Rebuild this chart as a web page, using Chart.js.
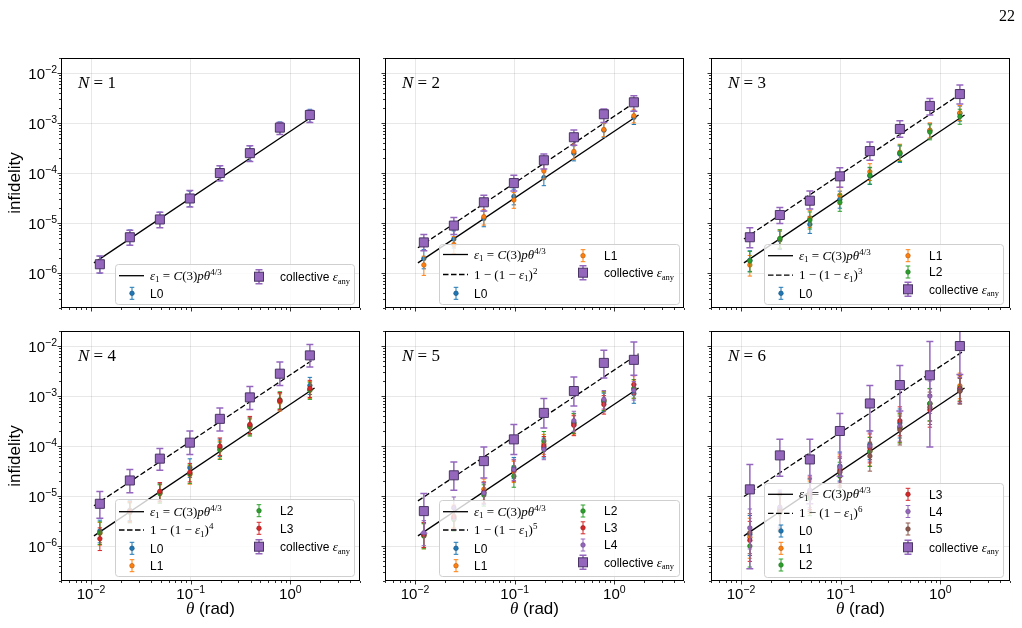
<!DOCTYPE html>
<html lang="en">
<head>
<meta charset="UTF-8">
<title>Infidelity vs rotation angle</title>
<script src="https://cdn.jsdelivr.net/npm/chart.js@4.4.0/dist/chart.umd.min.js"></script>
<style>
  body { margin: 0; background: #fff; }
  #page { position: relative; width: 1022px; height: 628px; background: #fff; }
  #page canvas { position: absolute; left: 0; top: 0; }
</style>
</head>
<body>
<div id="page">
  <canvas id="c1" width="1022" height="628"></canvas>
  <canvas id="c2" width="1022" height="628"></canvas>
  <canvas id="c3" width="1022" height="628"></canvas>
  <canvas id="c4" width="1022" height="628"></canvas>
  <canvas id="c5" width="1022" height="628"></canvas>
  <canvas id="c6" width="1022" height="628"></canvas>
</div>
<script>
// ---- data ----
const theta = [0.01227, 0.02454, 0.04909, 0.09817, 0.19635, 0.3927, 0.7854, 1.5708];
const xMajor = [0.01, 0.1, 1];
const xTickExp = ['\u22122', '\u22121', '0'];
const yMajor = [1e-6, 1e-5, 1e-4, 1e-3, 1e-2];
const yTickExp = ['\u22126', '\u22125', '\u22124', '\u22123', '\u22122'];

// theory lines (end points, straight on log-log)
const lineTheta = [0.0107, 1.75];
const eps1Ends = [1.6e-6, 1.45e-3];
const dash2 = [3.2e-6, 2.9e-3];
const dash3 = [4.8e-6, 4.35e-3];
const dash4 = [6.4e-6, 5.6e-3];
const dash5 = [8.0e-6, 7.0e-3];
const dash6 = [9.8e-6, 8.2e-3];

// N = 1
const n1Coll = [1.5e-6, 5.2e-6, 1.18e-5, 3.1e-5, 1.0e-4, 2.5e-4, 8.1e-4, 1.45e-3];
const n1CollLo = [1.0e-6, 3.6e-6, 8.1e-6, 2.1e-5, 7.0e-5, 1.7e-4, 5.9e-4, 1.03e-3];
const n1CollHi = [2.2e-6, 7.2e-6, 1.64e-5, 4.5e-5, 1.4e-4, 3.5e-4, 1.02e-3, 1.8e-3];
const n1L0 = [1.5e-6, 5.2e-6, 1.18e-5, 3.1e-5, 1.0e-4, 2.5e-4, 8.1e-4, 1.45e-3];
const n1LHi = [1.45, 1.4, 1.4, 1.4, 1.4, 1.4, 1.3, 1.3];
const n1LLo = [0.66, 0.69, 0.69, 0.69, 0.7, 0.7, 0.73, 0.72];

// N = 2
const n2Coll = [4.1e-6, 8.9e-6, 2.6e-5, 6.3e-5, 1.8e-4, 5.2e-4, 1.5e-3, 2.6e-3];
const n2CollLo = [2.8e-6, 5.9e-6, 1.74e-5, 4.4e-5, 1.2e-4, 3.6e-4, 1.03e-3, 1.73e-3];
const n2CollHi = [5.9e-6, 1.29e-5, 3.6e-5, 9.0e-5, 2.4e-4, 7.3e-4, 1.9e-3, 3.5e-3];
const n2L0 = [1.96e-6, 4.8e-6, 1.24e-5, 3.4e-5, 8.1e-5, 2.5e-4, 7.2e-4, 1.3e-3];
const n2L1 = [1.45e-6, 3.7e-6, 1.34e-5, 2.9e-5, 1.1e-4, 2.7e-4, 7.4e-4, 1.4e-3];
const n2LHi = [1.5, 1.45, 1.4, 1.4, 1.4, 1.4, 1.35, 1.35];
const n2LLo = [0.62, 0.66, 0.68, 0.68, 0.69, 0.7, 0.72, 0.72];

// N = 3
const n3Coll = [5.2e-6, 1.45e-5, 2.8e-5, 8.6e-5, 2.75e-4, 7.6e-4, 2.2e-3, 3.8e-3];
const n3CollLo = [3.2e-6, 9.8e-6, 1.9e-5, 5.2e-5, 1.8e-4, 5.2e-4, 1.45e-3, 2.4e-3];
const n3CollHi = [8.1e-6, 2.05e-5, 4.4e-5, 1.28e-4, 4.2e-4, 1.11e-3, 3.1e-3, 5.8e-3];
const n3L0 = [1.8e-6, 4.6e-6, 9.4e-6, 3.0e-5, 8.8e-5, 2.4e-4, 7.0e-4, 1.56e-3];
const n3L1 = [1.45e-6, 4.8e-6, 1.24e-5, 3.6e-5, 1.06e-4, 2.6e-4, 7.2e-4, 1.6e-3];
const n3L2 = [1.75e-6, 4.9e-6, 1.15e-5, 2.6e-5, 9.0e-5, 2.5e-4, 6.6e-4, 1.35e-3];
const n3LHi = [1.55, 1.5, 1.45, 1.45, 1.45, 1.45, 1.4, 1.4];
const n3LLo = [0.6, 0.64, 0.66, 0.66, 0.67, 0.68, 0.7, 0.7];

// N = 4
const n4Coll = [7.0e-6, 2.05e-5, 5.6e-5, 1.17e-4, 3.5e-4, 9.4e-4, 2.8e-3, 6.5e-3];
const n4CollLo = [3.6e-6, 1.17e-5, 3.3e-5, 6.8e-5, 2.0e-4, 5.4e-4, 1.63e-3, 3.8e-3];
const n4CollHi = [1.24e-5, 3.4e-5, 8.9e-5, 2.0e-4, 5.8e-4, 1.55e-3, 4.8e-3, 1.07e-2];
const n4L0 = [2.0e-6, 5.2e-6, 1.2e-5, 3.7e-5, 9.5e-5, 2.6e-4, 7.9e-4, 1.63e-3];
const n4L1 = [1.8e-6, 5.0e-6, 1.15e-5, 2.7e-5, 8.8e-5, 2.5e-4, 7.6e-4, 1.35e-3];
const n4L2 = [1.85e-6, 4.7e-6, 1.12e-5, 2.8e-5, 8.3e-5, 2.4e-4, 8.4e-4, 1.3e-3];
const n4L3 = [1.4e-6, 4.9e-6, 1.24e-5, 3.0e-5, 1.0e-4, 2.7e-4, 8.1e-4, 1.42e-3];
const n4LHi = [1.65, 1.55, 1.5, 1.5, 1.45, 1.45, 1.45, 1.45];
const n4LLo = [0.58, 0.62, 0.64, 0.64, 0.65, 0.66, 0.66, 0.66];

// N = 5
const n5Coll = [5.0e-6, 2.6e-5, 5.0e-5, 1.36e-4, 4.6e-4, 1.26e-3, 4.6e-3, 5.3e-3];
const n5CollLo = [1.8e-6, 1.3e-5, 2.3e-5, 6.8e-5, 2.3e-4, 6.3e-4, 2.3e-3, 2.6e-3];
const n5CollHi = [1.12e-5, 4.8e-5, 9.6e-5, 2.7e-4, 8.9e-4, 2.4e-3, 8.2e-3, 1.2e-2];
const n5L0 = [1.7e-6, 3.6e-6, 1.15e-5, 3.7e-5, 9.3e-5, 2.9e-4, 7.6e-4, 1.12e-3];
const n5L1 = [1.6e-6, 4.0e-6, 1.37e-5, 3.1e-5, 1.1e-4, 2.7e-4, 8.2e-4, 1.4e-3];
const n5L2 = [1.6e-6, 3.4e-6, 1.05e-5, 2.5e-5, 1.26e-4, 2.9e-4, 8.0e-4, 1.42e-3];
const n5L3 = [1.7e-6, 3.8e-6, 1.2e-5, 3.3e-5, 1.0e-4, 2.6e-4, 6.8e-4, 1.7e-3];
const n5L4 = [1.85e-6, 5.8e-6, 1.15e-5, 3.4e-5, 8.6e-5, 3.2e-4, 8.6e-4, 1.3e-3];
const n5LHi = [1.75, 1.65, 1.6, 1.6, 1.55, 1.55, 1.5, 1.5];
const n5LLo = [0.55, 0.58, 0.6, 0.6, 0.62, 0.62, 0.64, 0.64];

// N = 6
const n6Coll = [1.36e-5, 6.5e-5, 5.4e-5, 2.0e-4, 7.1e-4, 1.66e-3, 2.6e-3, 1.0e-2];
const n6CollLo = [3.5e-7, 2.5e-5, 7.0e-6, 2.5e-5, 2.0e-4, 5.0e-4, 9.6e-5, 2.7e-3];
const n6CollHi = [4.3e-5, 1.36e-4, 1.36e-4, 4.5e-4, 1.63e-3, 4.1e-3, 1.23e-2, 2.5e-2];
const n6L0 = [1.7e-6, 5.5e-6, 1.1e-5, 4.0e-5, 1.08e-4, 2.9e-4, 7.0e-4, 1.3e-3];
const n6L1 = [1.5e-6, 5.0e-6, 1.0e-5, 3.5e-5, 8.0e-5, 2.35e-4, 7.0e-4, 1.6e-3];
const n6L2 = [1.0e-6, 4.6e-6, 9.0e-6, 2.5e-5, 7.8e-5, 2.3e-4, 7.1e-4, 1.45e-3];
const n6L3 = [1.3e-6, 5.2e-6, 1.2e-5, 3.2e-5, 9.2e-5, 3.2e-4, 5.3e-4, 1.4e-3];
const n6L4 = [2.3e-6, 6.0e-6, 1.3e-5, 3.8e-5, 1.0e-4, 2.5e-4, 1.0e-3, 1.3e-3];
const n6L5 = [1.85e-6, 4.8e-6, 1.1e-5, 3.0e-5, 6.3e-5, 2.1e-4, 6.0e-4, 1.25e-3];
const n6LHi = [2.4, 2.2, 2.0, 1.9, 1.9, 1.9, 2.0, 1.8];
const n6LLo = [0.38, 0.42, 0.45, 0.5, 0.5, 0.5, 0.45, 0.55];

// ---- style ----
const SANS = '"Liberation Sans", Arial, Helvetica, sans-serif';
const SERIF = '"Liberation Serif", "DejaVu Serif", serif';
const COLORS = ['#1f77b4', '#ff7f0e', '#2ca02c', '#d62728', '#9467bd', '#8c564b'];
const PURPLE = '#9467bd';
const PW = 299, PH = 250;

const panels = [
  { id: 'c1', N: 1, left: 61,  top: 58,  coll: n1Coll, lo: n1CollLo, hi: n1CollHi, Ls: [n1L0], lHi: n1LHi, lLo: n1LLo, dash: null,
    leg: { box: [115, 264, 354, 304], c1: [275.7, 293.3], c2: [276.7] } },
  { id: 'c2', N: 2, left: 385, top: 58,  coll: n2Coll, lo: n2CollLo, hi: n2CollHi, Ls: [n2L0, n2L1], lHi: n2LHi, lLo: n2LLo, dash: dash2,
    leg: { box: [439, 244, 679, 304], c1: [254.5, 274.5, 293.3], c2: [255.7, 272.7] } },
  { id: 'c3', N: 3, left: 711, top: 58,  coll: n3Coll, lo: n3CollLo, hi: n3CollHi, Ls: [n3L0, n3L1, n3L2], lHi: n3LHi, lLo: n3LLo, dash: dash3,
    leg: { box: [764, 244, 1003, 304], c1: [255.7, 275.2, 293.3], c2: [255.7, 272, 289.3] } },
  { id: 'c4', N: 4, left: 61,  top: 331, coll: n4Coll, lo: n4CollLo, hi: n4CollHi, Ls: [n4L0, n4L1, n4L2, n4L3], lHi: n4LHi, lLo: n4LLo, dash: dash4,
    leg: { box: [115, 499, 354, 576], c1: [511.7, 530, 548.3, 565.7], c2: [510.7, 528.3, 546.7] } },
  { id: 'c5', N: 5, left: 385, top: 331, coll: n5Coll, lo: n5CollLo, hi: n5CollHi, Ls: [n5L0, n5L1, n5L2, n5L3, n5L4], lHi: n5LHi, lLo: n5LLo, dash: dash5,
    leg: { box: [439, 500, 679, 576], c1: [511.7, 530, 548.3, 565.7], c2: [511, 527.8, 545, 562.3] } },
  { id: 'c6', N: 6, left: 711, top: 331, coll: n6Coll, lo: n6CollLo, hi: n6CollHi, Ls: [n6L0, n6L1, n6L2, n6L3, n6L4, n6L5], lHi: n6LHi, lLo: n6LLo, dash: dash6,
    leg: { box: [764, 483, 1003, 577], c1: [494.3, 513.3, 531, 548.3, 565], c2: [494.3, 511.5, 529, 547.3] } }
];

function darken(hex, f) {
  const n = parseInt(hex.slice(1), 16);
  const r = Math.round(((n >> 16) & 255) * f), g = Math.round(((n >> 8) & 255) * f), b = Math.round((n & 255) * f);
  return `rgb(${r},${g},${b})`;
}

function drawRich(ctx, segs, x, y, align) {
  let w = 0;
  segs.forEach(s => { ctx.font = s.f; s.w = ctx.measureText(s.t).width; w += s.w; });
  let cx = align === 'right' ? x - w : align === 'center' ? x - w / 2 : x;
  segs.forEach(s => { ctx.font = s.f; ctx.fillText(s.t, cx, y + (s.dy || 0)); cx += s.w; });
}

function logTicks(min, max) {
  const out = [];
  for (let e = Math.floor(Math.log10(min)); e <= Math.ceil(Math.log10(max)); e++) {
    for (let k = 1; k <= 9; k++) {
      const v = k * Math.pow(10, e);
      if (v >= min * 0.999 && v <= max * 1.001) out.push({ v, major: k === 1 });
    }
  }
  return out;
}

const R13 = `13px ${SERIF}`, I13 = `italic 13px ${SERIF}`, R9 = `9px ${SERIF}`;
const eps1Segs = [
  { t: '\u03b5', f: I13 }, { t: '1', f: R9, dy: 2.5 }, { t: ' = ', f: R13 }, { t: 'C', f: I13 },
  { t: '(3)', f: R13 }, { t: 'p\u03b8', f: I13 }, { t: '4/3', f: R9, dy: -5 }
];
const dashSegs = N => [
  { t: '1 \u2212 (1 \u2212 ', f: R13 }, { t: '\u03b5', f: I13 }, { t: '1', f: R9, dy: 2.5 },
  { t: ')', f: R13 }, { t: String(N), f: R9, dy: -5 }
];
const collSegs = [
  { t: 'collective ', f: `12px ${SANS}` }, { t: '\u03b5', f: I13 }, { t: 'any', f: `8.5px ${SERIF}`, dy: 2.5 }
];

function drawErrHandle(ctx, cx, cy, color, square) {
  const h = square ? 7 : 6, cap = square ? 3.5 : 2.3;
  ctx.strokeStyle = color;
  ctx.lineWidth = square ? 1.5 : 1;
  ctx.beginPath();
  ctx.moveTo(cx, cy - h); ctx.lineTo(cx, cy + h);
  ctx.moveTo(cx - cap, cy - h); ctx.lineTo(cx + cap, cy - h);
  ctx.moveTo(cx - cap, cy + h); ctx.lineTo(cx + cap, cy + h);
  ctx.stroke();
  if (square) {
    ctx.fillStyle = PURPLE; ctx.strokeStyle = '#4b3566'; ctx.lineWidth = 1;
    ctx.fillRect(cx - 4.5, cy - 4.5, 9, 9); ctx.strokeRect(cx - 4.5, cy - 4.5, 9, 9);
  } else {
    ctx.fillStyle = color; ctx.strokeStyle = darken(color, 0.7); ctx.lineWidth = 0.6;
    ctx.beginPath(); ctx.arc(cx, cy, 2.3, 0, Math.PI * 2); ctx.fill(); ctx.stroke();
  }
}

function drawLegend(ctx, p) {
  const [x0, y0, x1, y1] = p.leg.box;
  ctx.save();
  ctx.beginPath();
  ctx.roundRect(x0 + 0.5, y0 + 0.5, x1 - x0, y1 - y0, 3);
  ctx.fillStyle = 'rgba(255,255,255,0.8)';
  ctx.fill();
  ctx.strokeStyle = '#cfcfcf'; ctx.lineWidth = 1;
  ctx.stroke();

  const entries = [{ kind: 'line' }];
  if (p.dash) entries.push({ kind: 'dash' });
  p.Ls.forEach((_, k) => entries.push({ kind: 'err', k }));
  entries.push({ kind: 'coll' });
  const n1 = Math.ceil(entries.length / 2);
  entries.forEach((en, i) => {
    const col = i < n1 ? 0 : 1;
    const y = col === 0 ? p.leg.c1[i] : p.leg.c2[i - n1];
    const hx = x0 + (col === 0 ? 17 : 144);
    const tx = x0 + (col === 0 ? 35 : 165);
    ctx.fillStyle = '#000';
    ctx.textBaseline = 'alphabetic';
    if (en.kind === 'line' || en.kind === 'dash') {
      ctx.strokeStyle = '#000'; ctx.lineWidth = 1.3;
      ctx.setLineDash(en.kind === 'dash' ? [5.5, 2.5] : []);
      ctx.beginPath(); ctx.moveTo(x0 + 4, y); ctx.lineTo(x0 + 29, y); ctx.stroke();
      ctx.setLineDash([]);
      ctx.fillStyle = '#000';
      drawRich(ctx, en.kind === 'line' ? eps1Segs : dashSegs(p.N), tx, y + 4, 'left');
    } else if (en.kind === 'err') {
      drawErrHandle(ctx, hx, y, COLORS[en.k], false);
      ctx.fillStyle = '#000';
      drawRich(ctx, [{ t: 'L' + en.k, f: `12px ${SANS}` }], tx, y + 4.3, 'left');
    } else {
      drawErrHandle(ctx, hx, y, PURPLE, true);
      ctx.fillStyle = '#000';
      drawRich(ctx, collSegs, tx, y + 4.3, 'left');
    }
  });
  ctx.restore();
}

function makePlugin(p, col, row) {
  return {
    id: 'panelDecor' + p.N,
    beforeDatasetDraw(chart, args) {
      const ds = chart.data.datasets[args.index];
      if (!ds.errLo) return;
      const ctx = chart.ctx, a = chart.chartArea, xs = chart.scales.x, ys = chart.scales.y;
      ctx.save();
      ctx.beginPath(); ctx.rect(a.left, a.top, a.right - a.left, a.bottom - a.top); ctx.clip();
      ctx.strokeStyle = ds.barColor; ctx.lineWidth = ds.barWidth;
      ds.data.forEach((pt, i) => {
        const x = xs.getPixelForValue(pt.x);
        const yt = ys.getPixelForValue(ds.errHi[i]);
        const yb = ds.errLo[i] > 0 ? ys.getPixelForValue(ds.errLo[i]) : a.bottom + 10;
        const c = ds.capHalf;
        ctx.beginPath();
        ctx.moveTo(x, yt); ctx.lineTo(x, yb);
        ctx.moveTo(x - c, yt); ctx.lineTo(x + c, yt);
        ctx.moveTo(x - c, yb); ctx.lineTo(x + c, yb);
        ctx.stroke();
      });
      ctx.restore();
    },
    afterDatasetsDraw(chart) {
      drawLegend(chart.ctx, p);
    },
    afterDraw(chart) {
      const ctx = chart.ctx, a = chart.chartArea, xs = chart.scales.x, ys = chart.scales.y;
      ctx.save();
      // frame
      ctx.strokeStyle = '#000'; ctx.lineWidth = 1;
      ctx.strokeRect(a.left + 0.5, a.top + 0.5, a.right - a.left - 1, a.bottom - a.top - 1);
      // tick marks
      ctx.beginPath();
      logTicks(xs.min, xs.max).forEach(t => {
        const px = Math.round(xs.getPixelForValue(t.v)) + 0.5;
        ctx.moveTo(px, a.bottom); ctx.lineTo(px, a.bottom + (t.major ? 3.5 : 2));
      });
      logTicks(ys.min, ys.max).forEach(t => {
        const py = Math.round(ys.getPixelForValue(t.v)) + 0.5;
        ctx.moveTo(a.left, py); ctx.lineTo(a.left - (t.major ? 3.5 : 2), py);
      });
      ctx.lineWidth = 0.8; ctx.stroke();

      ctx.fillStyle = '#000';
      ctx.textBaseline = 'alphabetic';
      // panel label
      drawRich(ctx, [{ t: 'N', f: `italic 17px ${SERIF}` }, { t: ' = ' + p.N, f: `17px ${SERIF}` }], a.left + 17, a.top + 29.5, 'left');

      if (col === 0) {
        yMajor.forEach((v, i) => {
          const py = ys.getPixelForValue(v);
          drawRich(ctx, [{ t: '10', f: `15px ${SANS}` }, { t: yTickExp[i], f: `10.5px ${SANS}`, dy: -6.5 }], a.left - 4, py + 6, 'right');
        });
        ctx.save();
        ctx.translate(15, (a.top + a.bottom) / 2);
        ctx.rotate(-Math.PI / 2);
        ctx.font = `17px ${SANS}`; ctx.textAlign = 'center'; ctx.textBaseline = 'middle';
        ctx.fillText('infidelity', 0, 0);
        ctx.restore();
      }
      if (row === 1) {
        xMajor.forEach((v, i) => {
          const px = xs.getPixelForValue(v);
          drawRich(ctx, [{ t: '10', f: `15px ${SANS}` }, { t: xTickExp[i], f: `10.5px ${SANS}`, dy: -6.5 }], px, a.bottom + 18, 'center');
        });
        drawRich(ctx, [{ t: '\u03b8', f: `italic 17px ${SERIF}` }, { t: ' (rad)', f: `17px ${SANS}` }], (a.left + a.right) / 2, a.bottom + 33, 'center');
      }
      if (p.N === 1) {
        ctx.font = `16px ${SERIF}`; ctx.textAlign = 'right';
        ctx.fillText('22', 1015, 21);
      }
      ctx.restore();
    }
  };
}

function buildDatasets(p) {
  const sets = [];
  sets.push({
    data: lineTheta.map((x, i) => ({ x, y: eps1Ends[i] })),
    showLine: true, borderColor: '#000', borderWidth: 1.3, pointRadius: 0, order: 300
  });
  if (p.dash) {
    sets.push({
      data: lineTheta.map((x, i) => ({ x, y: p.dash[i] })),
      showLine: true, borderColor: '#000', borderWidth: 1.3, borderDash: [5.5, 2.5], pointRadius: 0, order: 290
    });
  }
  p.Ls.forEach((vals, k) => {
    const c = COLORS[k];
    sets.push({
      data: theta.map((x, i) => ({ x, y: vals[i] })),
      errLo: vals.map((v, i) => v * p.lLo[i]),
      errHi: vals.map((v, i) => v * p.lHi[i]),
      barColor: c, barWidth: 1, capHalf: 2.2,
      showLine: false, pointRadius: 2.3, backgroundColor: c, borderColor: darken(c, 0.7), borderWidth: 0.6,
      order: 100 - k
    });
  });
  sets.push({
    data: theta.map((x, i) => ({ x, y: p.coll[i] })),
    errLo: p.lo, errHi: p.hi, barColor: PURPLE, barWidth: 1.5, capHalf: 3.5,
    showLine: false, pointStyle: 'rect', pointRadius: 6.4,
    backgroundColor: PURPLE, borderColor: '#4b3566', borderWidth: 1, order: 0
  });
  return sets;
}

panels.forEach((p, idx) => {
  const col = idx % 3, row = Math.floor(idx / 3);
  new Chart(document.getElementById(p.id), {
    type: 'scatter',
    data: { datasets: buildDatasets(p) },
    options: {
      responsive: false,
      animation: false,
      events: [],
      layout: { padding: { left: p.left, top: p.top, right: 1022 - p.left - PW, bottom: 628 - p.top - PH } },
      plugins: { legend: { display: false }, tooltip: { enabled: false } },
      scales: {
        x: {
          type: 'logarithmic', min: 0.005, max: 5,
          afterBuildTicks: s => { s.ticks = xMajor.map(v => ({ value: v })); },
          afterFit: s => { s.height = 0; },
          ticks: { display: false },
          grid: { color: 'rgba(0,0,0,0.09)', lineWidth: 1, drawTicks: false },
          border: { display: false }
        },
        y: {
          type: 'logarithmic', min: 2e-7, max: 2e-2,
          afterBuildTicks: s => { s.ticks = yMajor.map(v => ({ value: v })); },
          afterFit: s => { s.width = 0; },
          ticks: { display: false },
          grid: { color: 'rgba(0,0,0,0.09)', lineWidth: 1, drawTicks: false },
          border: { display: false }
        }
      }
    },
    plugins: [makePlugin(p, col, row)]
  });
});
</script>
</body>
</html>
